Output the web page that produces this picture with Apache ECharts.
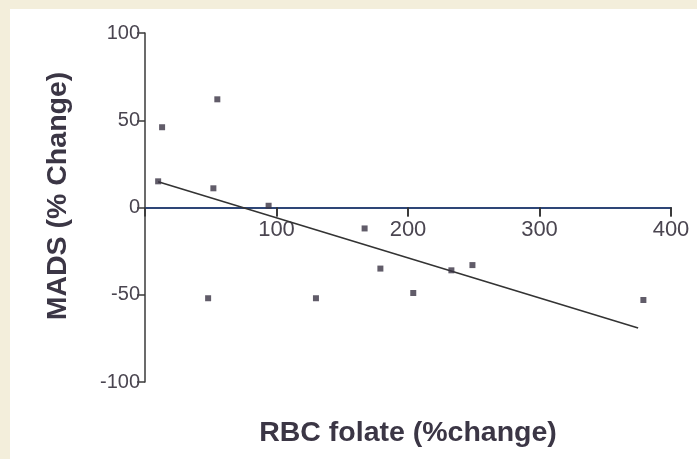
<!DOCTYPE html>
<html><head><meta charset="utf-8">
<script src="https://cdn.jsdelivr.net/npm/echarts@6/dist/echarts.min.js"></script>
<style>html,body{margin:0;padding:0;background:#f3eedb;}#c{position:absolute;left:10px;top:9px;width:687px;height:450px;background:#fff;}</style>
</head><body><div id="c"></div>
<script>
const xTicks = [0, 100, 200, 300, 400];
const yTicks = [-100, -50, 0, 50, 100];
const rbcFolate = [10, 13, 55, 52, 94, 48, 130, 167, 179, 204, 233, 249, 379];
const madsChange = [15, 46, 62, 11, 1, -52, -52, -12, -35, -49, -36, -33, -53];
const fitX = [10, 375];
const fitY = [14.7, -69];

const chart = echarts.init(document.getElementById('c'));
const pts = rbcFolate.map((x, i) => [x, madsChange[i]]);
const gridTop = 24, gridBottom = 77, H = 450;
const yMin = yTicks[0], yMax = yTicks[yTicks.length - 1];
const xMin = xTicks[0], xMax = xTicks[xTicks.length - 1];
const plotH = H - gridTop - gridBottom;
const zeroFromTop = plotH * (yMax - 0) / (yMax - yMin);
const font = 'Liberation Sans';
const tickStyle = {color: '#333', width: 1.6};
chart.setOption({
  animation: false,
  grid: [
    {left: 135, right: 26, top: gridTop, bottom: gridBottom, outerBoundsMode: 'none', containLabel: false},
    {left: 135, right: 26, top: gridTop, height: zeroFromTop, outerBoundsMode: 'none', containLabel: false},
    {left: 135, right: 26, top: gridTop + zeroFromTop, bottom: gridBottom, outerBoundsMode: 'none', containLabel: false}
  ],
  xAxis: [
    {
      gridIndex: 0, type: 'value', min: xMin, max: xMax, interval: 100,
      name: 'RBC folate (%change)', nameLocation: 'middle', nameGap: 37,
      nameTextStyle: {fontFamily: font, fontWeight: 'bold', fontSize: 28.5, color: '#3b3645'},
      axisLine: {show: false, onZero: false}, axisTick: {show: false}, axisLabel: {show: false},
      splitLine: {show: false}
    },
    {
      gridIndex: 1, type: 'value', min: xMin, max: xMax, interval: 100,
      position: 'bottom',
      axisLine: {show: true, onZero: false, lineStyle: {color: '#2e4677', width: 2}},
      axisTick: {show: true, inside: false, length: 9, lineStyle: tickStyle},
      axisLabel: {showMinLabel: false, fontFamily: font, fontSize: 22, color: '#4a4550', margin: 11},
      splitLine: {show: false}
    },
    {
      gridIndex: 2, type: 'value', min: xMin, max: xMax, interval: 100,
      position: 'top',
      axisLine: {show: false, onZero: false},
      axisTick: {show: true, inside: true, length: 9, lineStyle: tickStyle},
      axisLabel: {show: false},
      splitLine: {show: false}
    }
  ],
  yAxis: [
    {
      gridIndex: 0, type: 'value', min: yMin, max: yMax, interval: 50,
      name: 'MADS (% Change)', nameLocation: 'middle', nameGap: 72, nameRotate: 90,
      nameTextStyle: {fontFamily: font, fontWeight: 'bold', fontSize: 28.5, color: '#3b3645', padding: [0,0,0,23]},
      axisLine: {show: true, onZero: false, lineStyle: {color: '#3a3a3a', width: 1.5}},
      axisTick: {show: true, length: 8, lineStyle: {color: '#3a3a3a', width: 1.5}},
      axisLabel: {fontFamily: font, fontSize: 20, color: '#4a4550', margin: 5},
      splitLine: {show: false}
    },
    {gridIndex: 1, type: 'value', min: 0, max: yMax, show: false},
    {gridIndex: 2, type: 'value', min: yMin, max: 0, show: false}
  ],
  series: [
    {type: 'scatter', xAxisIndex: 0, yAxisIndex: 0, data: pts, symbol: 'rect', symbolSize: 6, itemStyle: {color: '#3a3344'}, z: 5},
    {type: 'line', xAxisIndex: 0, yAxisIndex: 0, data: fitX.map((x, i) => [x, fitY[i]]), symbol: 'none', lineStyle: {color: '#333', width: 1.6}, z: 5}
  ]
});
</script></body></html>
